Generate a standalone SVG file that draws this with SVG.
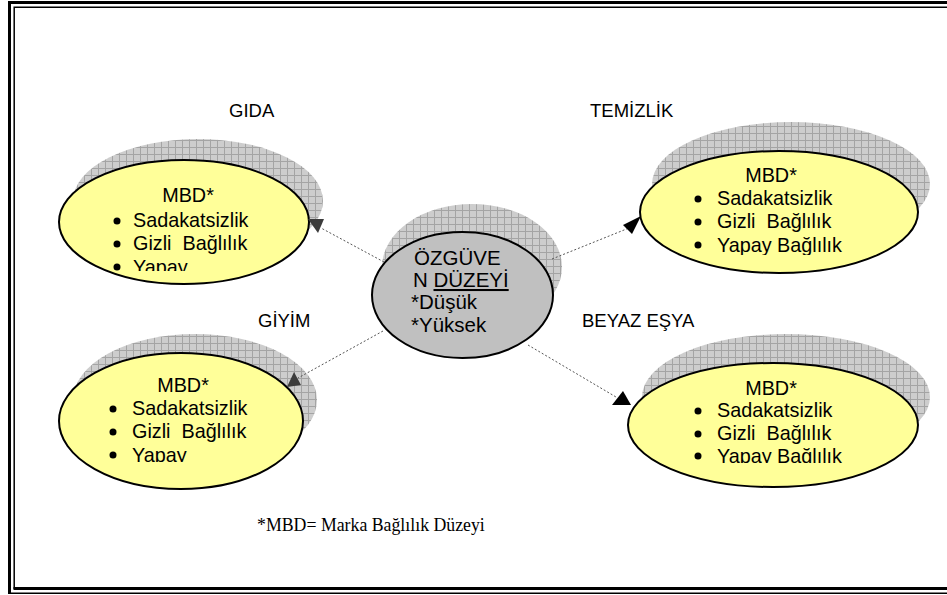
<svg xmlns="http://www.w3.org/2000/svg" width="947" height="595" viewBox="0 0 947 595">
<defs>
<pattern id="hatch" width="7" height="7" patternUnits="userSpaceOnUse">
<rect width="7" height="7" fill="#cdcdcd"/>
<path d="M0 0.5H7M0.5 0V7" stroke="#a4a4a4" stroke-width="1"/>
</pattern>
<clipPath id="c1"><rect x="0" y="0" width="947" height="271"/></clipPath>
<clipPath id="c2"><rect x="0" y="300" width="947" height="162"/></clipPath>
<clipPath id="c3"><rect x="0" y="0" width="947" height="255"/></clipPath>
<clipPath id="c4"><rect x="0" y="300" width="947" height="163"/></clipPath>
</defs>
<style>
.t{font-family:"Liberation Sans",Arial,sans-serif;font-size:19.8px;fill:#000;white-space:pre}
.lbl{font-family:"Liberation Sans",Arial,sans-serif;font-size:18.5px;fill:#000}
.foot{font-family:"Liberation Serif","Times New Roman",serif;font-size:17.8px;fill:#000}
.sh{fill:url(#hatch)}
.yel{fill:#ffff99;stroke:#000;stroke-width:2}
.gry{fill:#c0c0c0;stroke:#000;stroke-width:2}
.con{stroke:#555;stroke-width:1;stroke-dasharray:2 2;fill:none}
</style>
<rect width="947" height="595" fill="#fff"/>
<g id="frame" fill="none" stroke="#000">
<path d="M947 2.5H9.5V594" stroke-width="3"/>
<path d="M8 593.2H947" stroke-width="1.5"/>
<path d="M947 7.2H14.2V589" stroke-width="1.5"/>
<path d="M13.5 588.5H947" stroke-width="3"/>
</g>
<g id="labels">
<text class="lbl" x="229" y="117">GIDA</text>
<text class="lbl" x="590" y="117">TEMİZLİK</text>
<text class="lbl" x="258" y="327">GİYİM</text>
<text class="lbl" x="582" y="327">BEYAZ EŞYA</text>
</g>
<g id="node-gida">
<ellipse class="sh" cx="198" cy="201" rx="125" ry="62"/>
<ellipse class="yel" cx="184" cy="222" rx="125" ry="62"/>
<g clip-path="url(#c1)">
<text class="t" x="188" y="202" text-anchor="middle">MBD*</text>
<circle cx="117" cy="221" r="3.5"/><text class="t" x="133" y="227">Sadakatsizlik</text>
<circle cx="117" cy="244" r="3.5"/><text class="t" x="133" y="250">Gizli  Bağlılık</text>
<circle cx="117" cy="267" r="3.5"/><text class="t" x="133" y="274">Yapay</text>
</g>
</g>
<g id="node-giyim">
<ellipse class="sh" cx="195" cy="400" rx="122" ry="66"/>
<ellipse class="yel" cx="181" cy="421" rx="122" ry="68"/>
<g clip-path="url(#c2)">
<text class="t" x="183" y="392" text-anchor="middle">MBD*</text>
<circle cx="113" cy="409" r="3.5"/><text class="t" x="132" y="415">Sadakatsizlik</text>
<circle cx="113" cy="432" r="3.5"/><text class="t" x="132" y="438">Gizli  Bağlılık</text>
<circle cx="113" cy="455" r="3.5"/><text class="t" x="132" y="462">Yapay</text>
</g>
</g>
<g id="node-temizlik">
<ellipse class="sh" cx="791" cy="184" rx="139" ry="62"/>
<ellipse class="yel" cx="779" cy="212" rx="139" ry="61"/>
<g clip-path="url(#c3)">
<text class="t" x="771" y="182" text-anchor="middle">MBD*</text>
<circle cx="698" cy="199" r="3.5"/><text class="t" x="717" y="205">Sadakatsizlik</text>
<circle cx="698" cy="222" r="3.5"/><text class="t" x="717" y="228">Gizli  Bağlılık</text>
<circle cx="698" cy="245" r="3.5"/><text class="t" x="717" y="252">Yapay Bağlılık</text>
</g>
</g>
<g id="node-beyaz">
<ellipse class="sh" cx="786" cy="397" rx="144" ry="63"/>
<ellipse class="yel" cx="773" cy="425" rx="145" ry="62"/>
<g clip-path="url(#c4)">
<text class="t" x="771" y="395" text-anchor="middle">MBD*</text>
<circle cx="698" cy="411" r="3.5"/><text class="t" x="717" y="417">Sadakatsizlik</text>
<circle cx="698" cy="434" r="3.5"/><text class="t" x="717" y="440">Gizli  Bağlılık</text>
<circle cx="698" cy="456" r="3.5"/><text class="t" x="717" y="463">Yapay Bağlılık</text>
</g>
</g>
<g id="node-center">
<ellipse class="sh" cx="472" cy="267" rx="90" ry="63"/>
<ellipse class="gry" cx="462.5" cy="295" rx="90.5" ry="63"/>
<text class="t" x="414" y="265" style="font-size:20.5px">ÖZGÜVE</text>
<text class="t" x="413" y="287" style="font-size:20.5px">N <tspan text-decoration="underline">DÜZEYİ</tspan></text>
<text class="t" x="411" y="309" style="font-size:20.5px">*Düşük</text>
<text class="t" x="411" y="332" style="font-size:20.5px">*Yüksek</text>
</g>
<g id="connectors">
<path class="con" d="M384 262L321 228"/>
<path class="con" d="M383 331L298 378"/>
<path class="con" d="M552 259L629 228"/>
<path class="con" d="M528 345L616 397"/>
<polygon points="308,219 324,219 318,233" fill="#3c3c3c"/>
<polygon points="294,372 287,387 301,385" fill="#3c3c3c"/>
<polygon points="641,216 623,225 632,234" fill="#000"/>
<polygon points="623,391 612,405 631,405" fill="#000"/>
</g>
<g id="footer">
<text class="foot" x="257" y="531">*MBD= Marka Bağlılık Düzeyi</text>
</g>
</svg>
